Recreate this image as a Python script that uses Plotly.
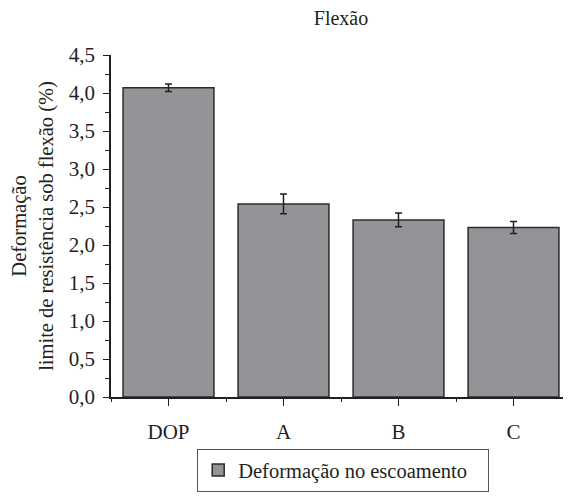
import plotly.graph_objects as go

categories = ["DOP", "A", "B", "C"]
values = [4.07, 2.54, 2.33, 2.23]
errors = [0.05, 0.13, 0.09, 0.08]
y_tick_vals = [0, 0.5, 1.0, 1.5, 2.0, 2.5, 3.0, 3.5, 4.0, 4.5]
y_tick_text = ["0,0", "0,5", "1,0", "1,5", "2,0", "2,5", "3,0", "3,5", "4,0", "4,5"]
series_name = "Deformação no escoamento"

FONT = "Liberation Serif"
AX = "#231f20"
TXT = "#231f20"

fig = go.Figure()
fig.add_trace(go.Bar(
    x=list(range(len(categories))),
    y=values,
    name=series_name,
    width=0.79,
    marker=dict(color="#939497", line=dict(color="#2b2b2b", width=1.5)),
    error_y=dict(type="data", array=errors, visible=True,
                 color="#231f20", thickness=1.5, width=3.5),
    showlegend=True,
))

fig.update_layout(
    width=563, height=489,
    paper_bgcolor="white", plot_bgcolor="white",
    margin=dict(l=103, r=0, t=47, b=100),
    font=dict(family=FONT, size=21, color=TXT),
    title=dict(text="Flexão", x=0.5915, xanchor="center", y=0.98, yanchor="middle",
               font=dict(family=FONT, size=20, color=TXT)),
    showlegend=True,
    legend=dict(orientation="h", x=0.187, xanchor="left", y=-0.152, yanchor="top",
                bordercolor="#555555", borderwidth=1.2, bgcolor="white",
                font=dict(family=FONT, size=20.5, color=TXT),
                entrywidth=244, entrywidthmode="pixels",
                itemwidth=30),
)

fig.update_xaxes(
    range=[-0.5, 3.5],
    tickmode="array", tickvals=list(range(len(categories))), ticktext=categories,
    ticks="outside", ticklen=7, tickwidth=1.3, tickcolor=AX,
    minor=dict(tickmode="array", tickvals=[-0.5, 0.5, 1.5, 2.5], ticks="outside",
               ticklen=3, tickwidth=1.3, tickcolor=AX),
    showline=True, linecolor=AX, linewidth=1.5,
    showgrid=False, zeroline=False,
    tickfont=dict(family=FONT, size=21, color=TXT),
    ticklabelstandoff=8,
)

fig.update_yaxes(
    range=[0, 4.5],
    tickmode="array", tickvals=y_tick_vals, ticktext=y_tick_text,
    ticks="outside", ticklen=6, tickwidth=1.3, tickcolor=AX,
    minor=dict(dtick=0.25, tick0=0, ticks="outside", ticklen=4, tickwidth=1.3,
               tickcolor=AX, showgrid=False),
    showline=True, linecolor=AX, linewidth=1.5,
    showgrid=False, zeroline=False,
    tickfont=dict(family=FONT, size=21, color=TXT),
    ticklabelstandoff=4,
    title=dict(text="Deformação<br>limite de resistência sob flexão (%)",
               font=dict(family=FONT, size=20.5, color=TXT), standoff=10),
)

fig.write_html("out.html")
